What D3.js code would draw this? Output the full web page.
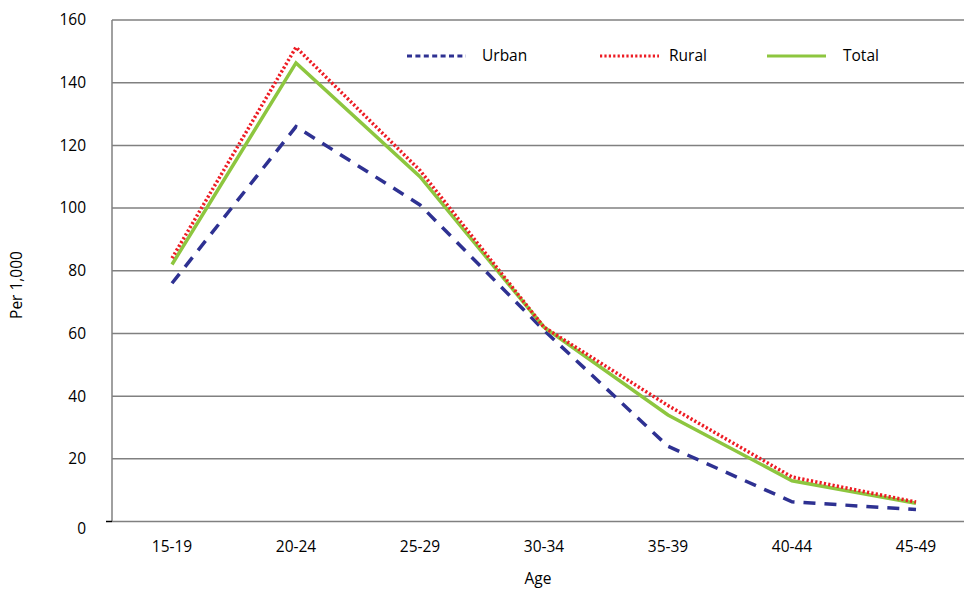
<!DOCTYPE html>
<html><head><meta charset="utf-8">
<script src="https://cdn.jsdelivr.net/npm/d3@7"></script>
<style>body{margin:0;background:#fff}svg{display:block}text{font-family:"Open Sans",sans-serif;fill:#000}</style>
</head><body><svg id="c" width="964" height="590"></svg>
<script>
const categories = ["15-19","20-24","25-29","30-34","35-39","40-44","45-49"];
const urban = [76, 126, 101, 61, 24, 6.3, 3.8];
const rural = [84, 151.3, 112, 62, 37, 14.2, 6.2];
const total = [82, 146.3, 110, 62, 34, 13, 5.8];
const yTicks = [0,20,40,60,80,100,120,140,160];
const seriesNames = ["Urban","Rural","Total"];

(function(){
const svg = d3.select("#c");
const pLeft = 112, pRight = 964, pTop = 20, pBottom = 521.5;
const x = d3.scalePoint().domain(categories).range([110, 978]).padding(0.5);
const y = d3.scaleLinear().domain([0,160]).range([pBottom, pTop]);

svg.append("g").selectAll("line").data(yTicks).join("line")
  .attr("x1", pLeft).attr("x2", pRight)
  .attr("y1", d=>y(d)).attr("y2", d=>y(d))
  .attr("stroke", "#808080").attr("stroke-width", 1.5);
svg.append("line").attr("x1", pLeft).attr("x2", pLeft).attr("y1", pTop).attr("y2", pBottom)
  .attr("stroke", "#808080").attr("stroke-width", 1.5);
svg.append("line").attr("x1", 106).attr("x2", pLeft).attr("y1", pBottom).attr("y2", pBottom)
  .attr("stroke", "#000").attr("stroke-width", 1.5);

svg.append("g").selectAll("text").data(yTicks).join("text")
  .attr("x", 86).attr("y", d=>y(d) + (d===0 ? 7.5 : 0)).attr("dy","0.35em")
  .attr("text-anchor","end").attr("font-size", 15.5).text(d=>d);
svg.append("g").selectAll("text").data(categories).join("text")
  .attr("x", d=>x(d)).attr("y", 551.5)
  .attr("text-anchor","middle").attr("font-size", 15.5).text(d=>d);

svg.append("text").attr("transform","translate(22,285) rotate(-90)")
  .attr("text-anchor","middle").attr("font-size",15.5).text("Per 1,000");
svg.append("text").attr("x", 538).attr("y", 584)
  .attr("text-anchor","middle").attr("font-size",15.5).text("Age");

const styles = [
  {data: urban, color:"#2E3192", width:3.5, dash:"12,9", legDash:"5,3.4"},
  {data: rural, color:"#ED1C24", width:3.5, dash:"2.2,2.2", legDash:"2.2,2.2"},
  {data: total, color:"#8DC63F", width:3.5, dash:null, legDash:null}
];
const line = d3.line().x((d,i)=>x(categories[i])).y(d=>y(d));
[styles[0], styles[2], styles[1]].forEach(s=>{
  svg.append("path").datum(s.data).attr("d", line)
    .attr("fill","none").attr("stroke", s.color).attr("stroke-width", s.width)
    .attr("stroke-dasharray", s.dash).attr("stroke-linejoin","miter");
});

const legX = [407, 600, 767], legT = [482, 669, 843];
seriesNames.forEach((n,i)=>{
  const s = styles[i];
  svg.append("line").attr("x1", legX[i]).attr("x2", legX[i]+59).attr("y1",56).attr("y2",56)
    .attr("stroke", s.color).attr("stroke-width", 3).attr("stroke-dasharray", s.legDash);
  svg.append("text").attr("x", legT[i]).attr("y", 56).attr("dy","0.35em")
    .attr("font-size",15.5).text(n);
});
})();
</script></body></html>
